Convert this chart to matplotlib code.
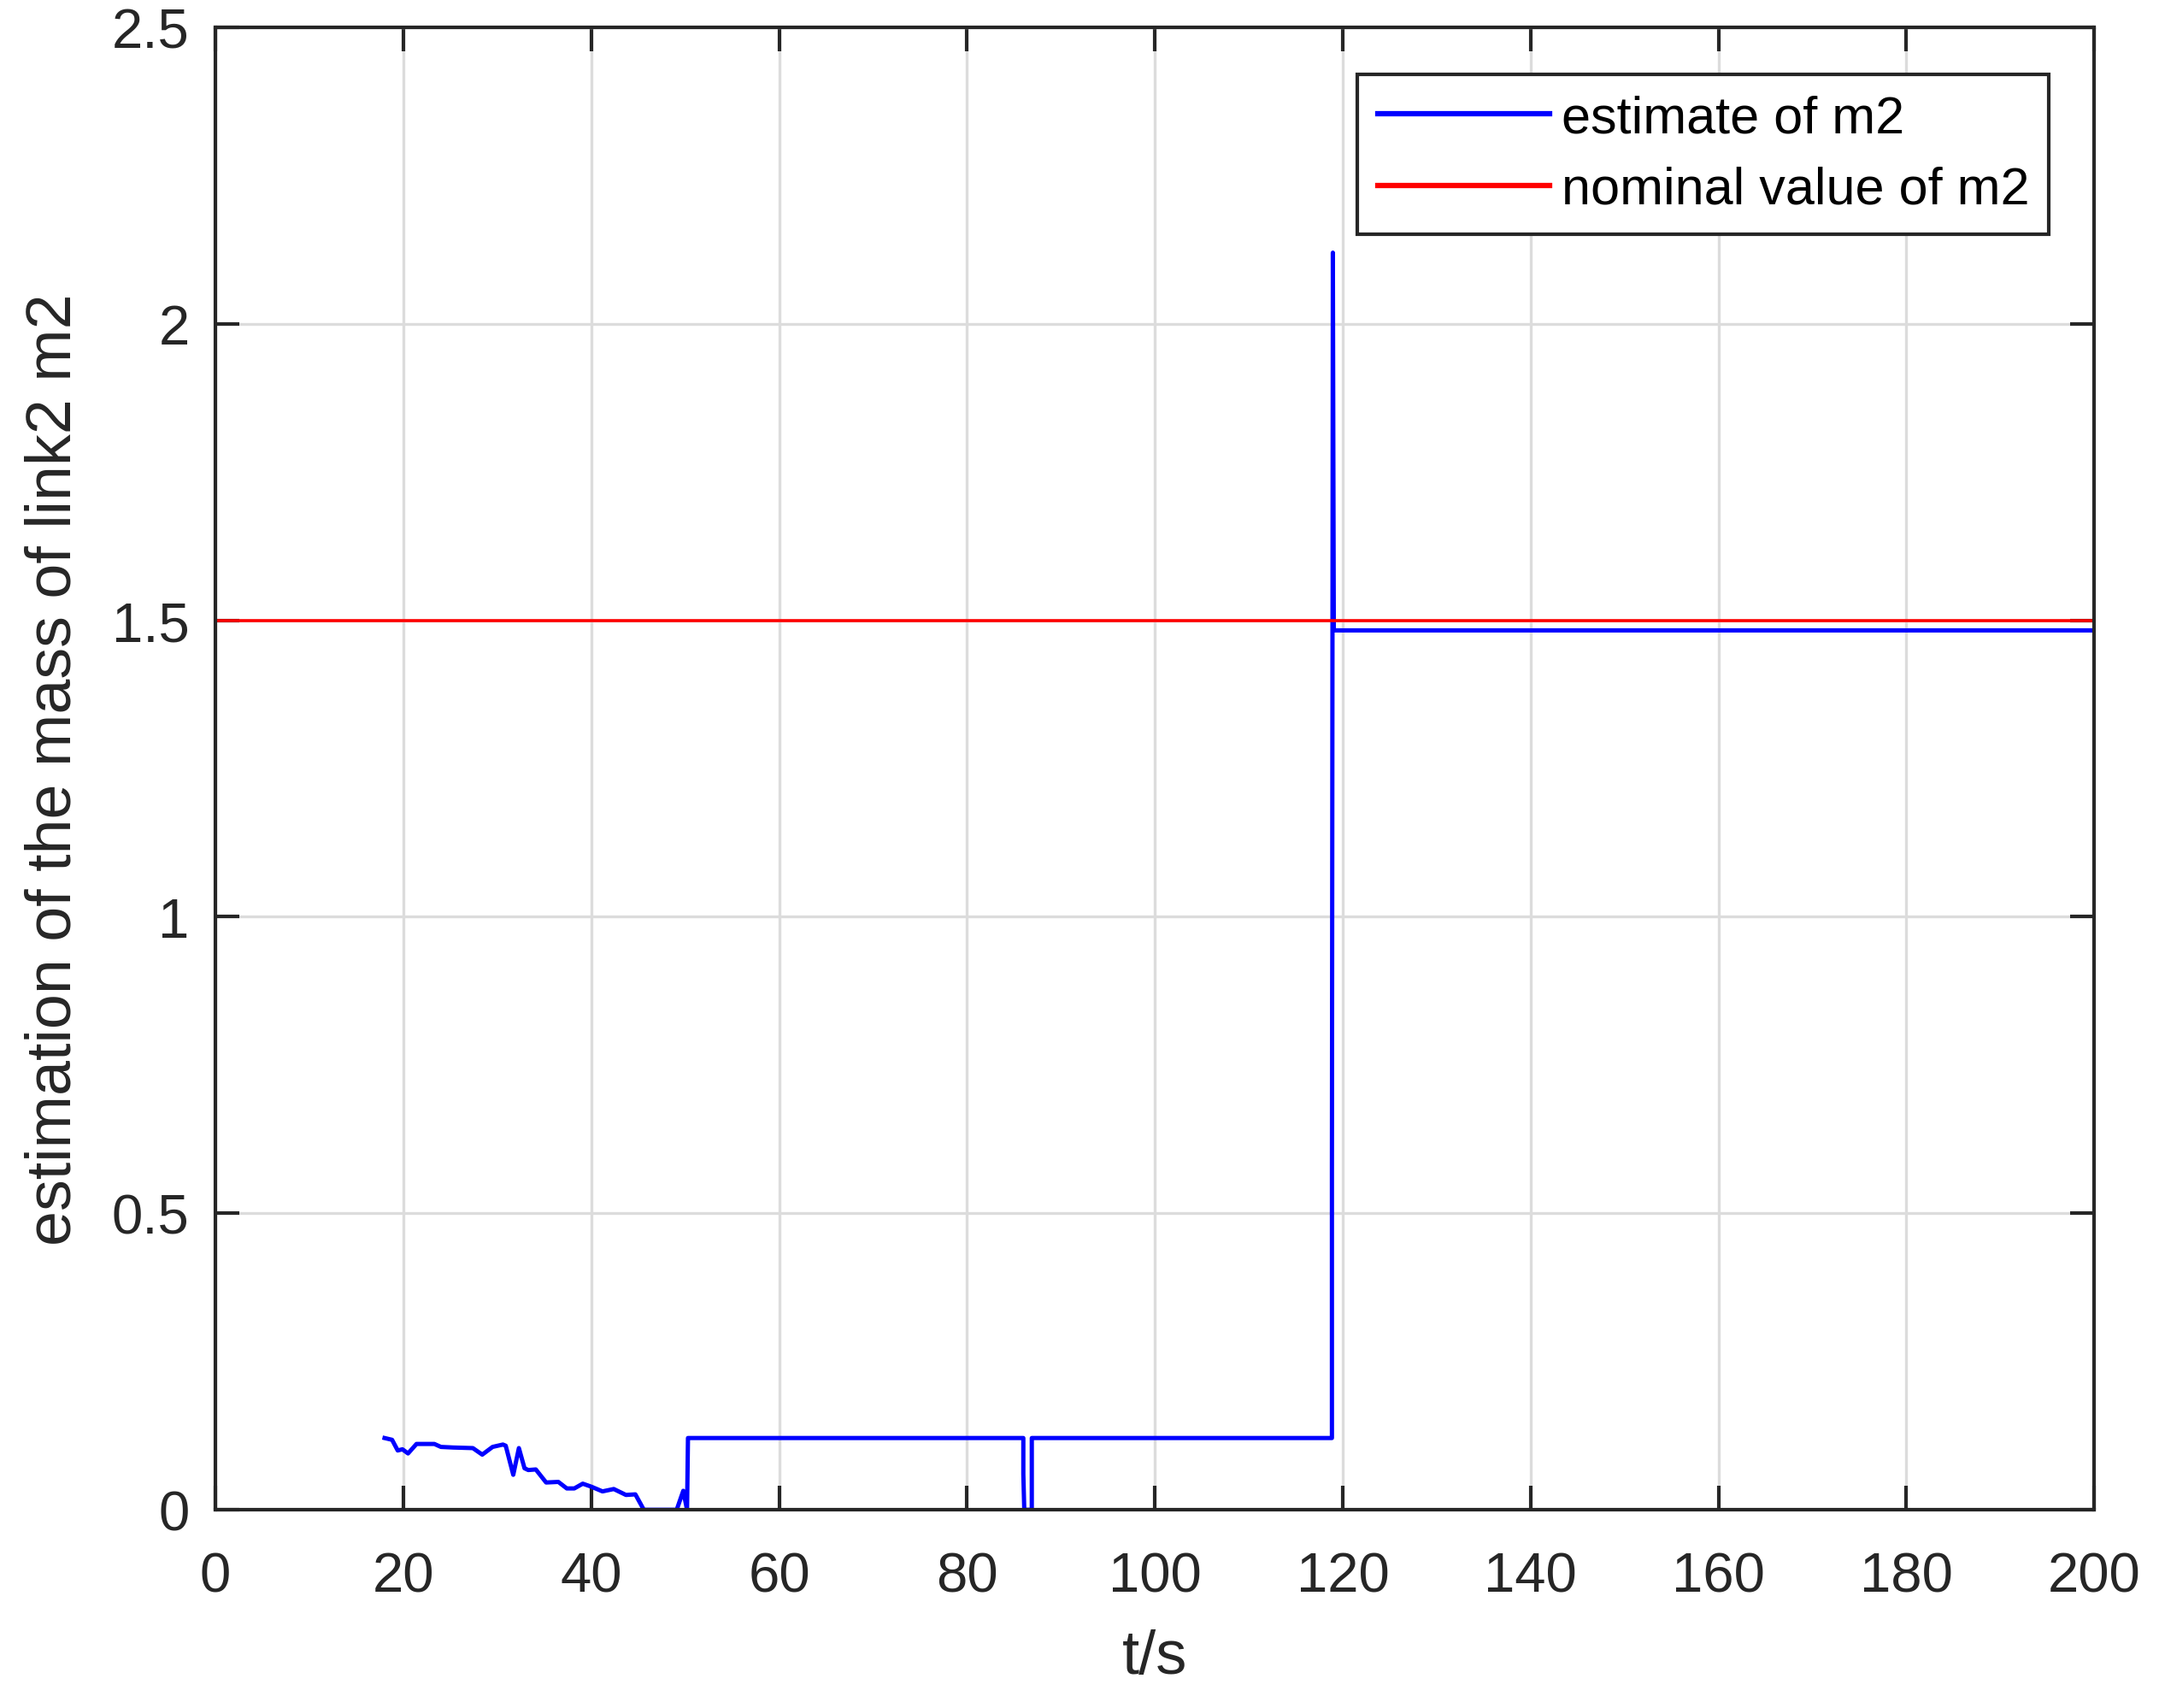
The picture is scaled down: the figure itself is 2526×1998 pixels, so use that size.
import matplotlib.pyplot as plt

plt.rcParams['font.family'] = ['Liberation Sans', 'DejaVu Sans']

# estimate of m2
t_est = [18.0, 18.8, 19.4, 19.9, 20.5, 21.4, 23.3, 24.0, 25.3, 27.4, 28.4, 29.5,
         30.6, 30.9, 31.7, 32.3, 32.9, 33.3, 34.1, 35.2, 36.5, 37.4, 38.2, 39.1,
         40.0, 41.2, 42.4, 43.7, 44.7, 45.6, 49.1, 49.8, 50.2, 50.3,
         86.0, 86.0, 86.1, 86.9, 86.9,
         118.85, 118.85, 118.95, 119.0, 119.05, 200.0]
m2_est = [0.121, 0.118, 0.100, 0.102, 0.095, 0.111, 0.111, 0.106, 0.105, 0.104, 0.093, 0.106,
          0.110, 0.108, 0.059, 0.104, 0.070, 0.067, 0.068, 0.046, 0.047, 0.036, 0.036, 0.044,
          0.039, 0.031, 0.035, 0.025, 0.026, 0.0, 0.0, 0.032, 0.0, 0.121,
          0.121, 0.06, 0.0, 0.0, 0.121,
          0.121, 0.57, 2.12, 1.78, 1.483, 1.483]

# nominal value
t_nom = [0, 200]
m2_nom = [1.5, 1.5]

fig = plt.figure(figsize=(25.26, 19.99), dpi=100)
ax = fig.add_axes([0.0998, 0.1160, 0.8702, 0.8675])

ax.plot(t_est, m2_est, color='#0000ff', lw=3.6, label='estimate of m2')
ax.plot(t_nom, m2_nom, color='#ff0000', lw=2.6, label='nominal value of m2')

ax.set_xlim(0, 200)
ax.set_ylim(0, 2.5)
ax.set_xticks(range(0, 201, 20))
ax.set_yticks([0, 0.5, 1, 1.5, 2, 2.5])
ax.set_yticklabels(['0', '0.5', '1', '1.5', '2', '2.5'])

ax.grid(True, color='#dcdcdc', lw=2.4)
ax.set_axisbelow(True)
for s in ax.spines.values():
    s.set_linewidth(3.0)
    s.set_color('#262626')
ax.tick_params(direction='in', length=20, width=3, colors='#262626',
               labelsize=47, top=True, right=True)
ax.tick_params(axis='x', pad=35)
ax.tick_params(axis='y', pad=22)

ax.set_xlabel('t/s', fontsize=52, color='#262626', labelpad=22)
ax.set_ylabel('estimation of the mass of link2 m2', fontsize=53, color='#262626', labelpad=24)

leg = ax.legend(loc='upper right', bbox_to_anchor=(0.976, 0.968), fontsize=44,
                frameon=True, fancybox=False, framealpha=1, edgecolor='#262626',
                handlelength=3.3, handletextpad=0.22, borderpad=0.38,
                labelspacing=0.43, borderaxespad=0)
leg.get_frame().set_linewidth(3.0)
for line in leg.get_lines():
    line.set_linewidth(4.5)

fig.savefig('out.png', dpi=100)
